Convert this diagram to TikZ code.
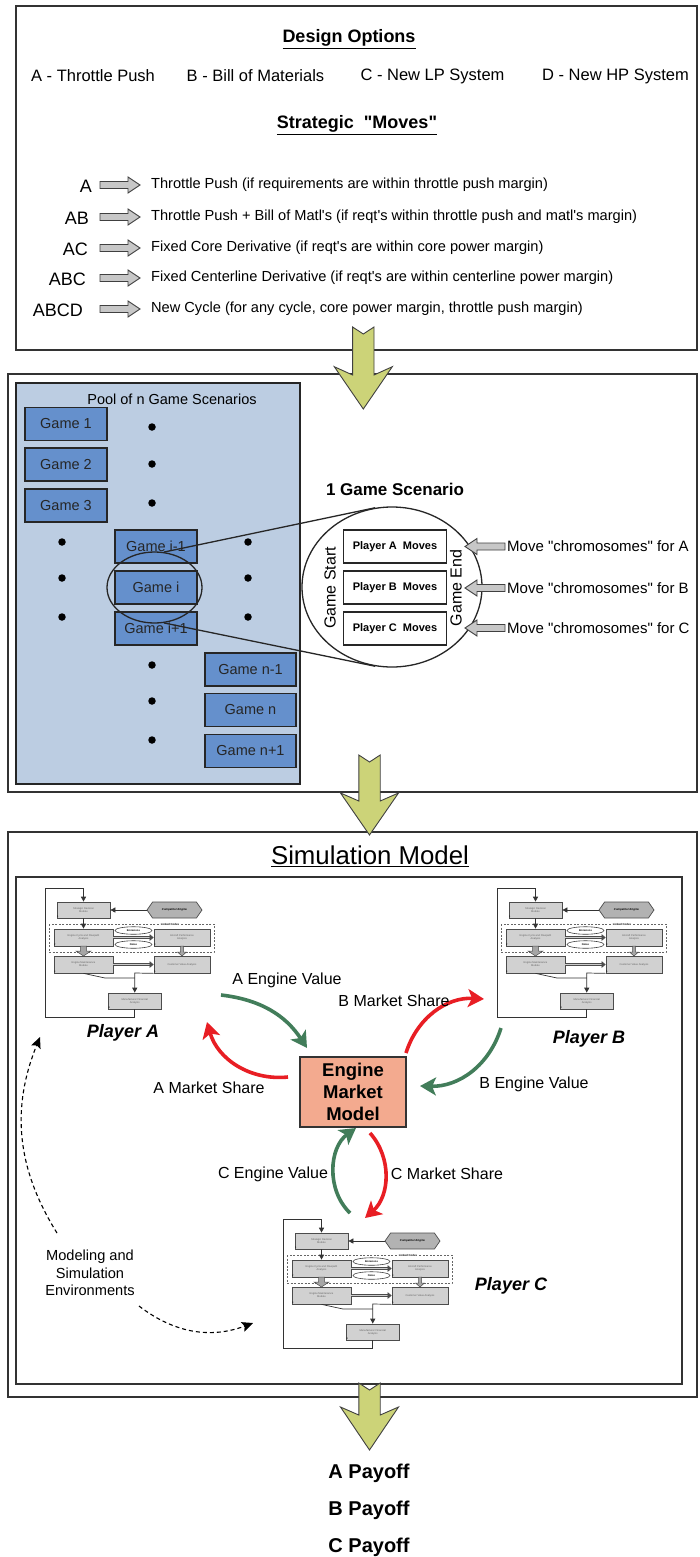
\documentclass[tikz,border=0pt]{standalone}
\usepackage{fontspec}
\setmainfont{Liberation Sans}
\usetikzlibrary{arrows.meta,shapes.geometric,shapes.symbols}

\definecolor{gameblue}{RGB}{101,144,204}
\definecolor{poolblue}{RGB}{188,205,226}
\definecolor{ygreen}{RGB}{204,211,120}
\definecolor{salmon}{RGB}{243,170,143}
\definecolor{agreen}{RGB}{66,125,90}
\definecolor{ared}{RGB}{232,30,36}

\newcommand\fsz[2]{\fontsize{#1}{#2}\selectfont}
\newcommand\dq{\textquotedbl}
\newcommand\sq{\textquotesingle}

\tikzset{
 frame/.style={draw=black!80, line width=1.8pt},
 poolbox/.style={draw=black!85, line width=1.6pt, fill=poolblue},
 game/.style={draw=black!85, line width=1.3pt, fill=gameblue, minimum height=33, inner sep=0pt, font=\fsz{14.5}{17}, text=black!85},
 gdot/.style={circle, fill=black, inner sep=0pt, minimum size=7.5},
 pmove/.style={draw=black!85, line width=1.4pt, fill=white, minimum width=103, minimum height=33, font=\bfseries\fsz{11}{13}},
 blockarr/.style={draw=black!75, line width=0.9pt, fill=black!22},
 yarrow/.style={draw=black!75, line width=0.9pt, fill=ygreen},
 flowlbl/.style={font=\fsz{16}{19}, inner sep=0pt},
 garrow/.style={draw=agreen, line width=3.6pt, -{Stealth[length=16pt,width=18pt,inset=4pt]}},
 rarrow/.style={draw=ared, line width=3.6pt, -{Stealth[length=16pt,width=18pt,inset=4pt]}},
 dasharr/.style={draw=black, line width=1.1pt, dash pattern=on 4pt off 3pt, -{Stealth[length=11pt,width=10pt,inset=2pt]}},
 mbox/.style={draw=black!70, line width=0.7pt, fill=black!18, align=center, font=\fsz{2.6}{3}, text=black!60, inner sep=0.5pt},
 mhex/.style={signal, signal to=west and east, signal pointer angle=110, draw=black!70, line width=0.7pt, fill=black!30, minimum width=55, minimum height=16, font=\bfseries\itshape\fsz{2.8}{3}, inner sep=0.5pt},
 mell/.style={ellipse, draw=black!75, line width=0.6pt, fill=white, minimum width=37, minimum height=7.5, inner sep=0pt, font=\bfseries\fsz{2.6}{3}},
 mline/.style={draw=black!80, line width=0.7pt},
 marrow/.style={mline, -{Triangle[length=5pt,width=5pt]}},
 mdouble/.style={draw=black!70, double=black!20, double distance=1.6pt, line width=0.6pt, -{Triangle[length=4pt,width=6.5pt]}},
 mdash/.style={draw=black!60, line width=0.5pt, dash pattern=on 2pt off 1.5pt},
 mnum/.style={font=\fsz{2.5}{3}, inner sep=0.3pt, anchor=south west},
 mblock/.style={draw=black!70, line width=0.5pt, fill=black!35},
}

\newcommand\mvarrow[1]{%
 \draw[blockarr] (100,#1-3.5) -- (128,#1-3.5) -- (128,#1-8) -- (140,#1) -- (128,#1+8) -- (128,#1+3.5) -- (100,#1+3.5) -- cycle;}
\newcommand\chrarrow[1]{%
 \draw[blockarr] (505,#1-3.5) -- (477,#1-3.5) -- (477,#1-8) -- (465,#1) -- (477,#1+8) -- (477,#1+3.5) -- (505,#1+3.5) -- cycle;}
% cx, top, wing, junction, tip
\newcommand\bigarrow[5]{%
 \draw[yarrow] (#1-10.7,#2) -- (#1,#2+7) -- (#1+10.7,#2) -- (#1+10.7,#4) -- (#1+29,#3) -- (#1,#5) -- (#1-29,#3) -- (#1-10.7,#4) -- cycle;}

\newcommand\miniflow[3]{%
\begin{scope}[shift={(#2,#3)}]
 \draw[mdash] (4,36) rectangle (169,64);
 \node[mbox, minimum width=53, minimum height=16] (#1sd) at (38.5,22) {Strategic Decision\\Module};
 \node[mhex] (#1ce) at (129.5,22) {Competitor Engine};
 \node[mbox, minimum width=59, minimum height=17] (#1ec) at (38.5,49.5) {Engine Cycle and Flowpath\\Analysis};
 \node[mbox, minimum width=56, minimum height=17] (#1ap) at (137,49.5) {Aircraft Performance\\Analysis};
 \node[mbox, minimum width=59, minimum height=17] (#1mm) at (38.5,76.5) {Engine Maintenance\\Module};
 \node[mbox, minimum width=56, minimum height=17] (#1cv) at (137,76.5) {Customer Value Analysis};
 \node[mbox, minimum width=52.5, minimum height=16] (#1mf) at (89.75,113) {Manufacturer Financial\\Analysis};
 \node[mnum] (#1n1) at (#1sd.south west) {1};
 \node[mnum] (#1n2) at (#1ec.south west) {2};
 \node[mnum] (#1n3) at (#1ap.south west) {3};
 \node[mnum] (#1n4) at (#1mm.south west) {4};
 \node[mnum] (#1n5) at (#1cv.south west) {5};
 \node[mnum] (#1n6) at (#1mf.south west) {6};
 \node[font=\bfseries\fsz{2.8}{3}, fill=white, inner sep=0.5pt] (#1lc) at (125,36.5) {Linked Codes};
 \draw[mdouble] (#1ec.east) -- (#1ap.west);
 \draw[mdouble] (#1mm.east) -- (#1cv.west);
 \node[mell] (#1em) at (88.5,42.5) {Emissions};
 \node[mell] (#1no) at (88.5,56.5) {Noise};
 \draw[marrow] (#1mf.south) -- (89.75,129) -- (0,129) -- (0,0) -- (38.5,0) -- (#1sd.north);
 \draw[marrow] (#1ce.west) -- (#1sd.east);
 \draw[marrow] (#1sd.south) -- (#1ec.north);
 \draw[mblock] (35.5,58) -- (35.5,63) -- (31,63) -- (38.5,68) -- (46,63) -- (41.5,63) -- (41.5,58) -- cycle;
 \draw[mblock] (135.5,58) -- (135.5,64) -- (132.5,64) -- (137,68) -- (141.5,64) -- (138.5,64) -- (138.5,58) -- cycle;
 \draw[mline] (#1mm.south) -- (60,90) -- (89.75,90);
 \draw[marrow] (#1cv.south west) -- (89.75,85) -- (#1mf.north);
\end{scope}}

\begin{document}
\begin{tikzpicture}[x=1pt,y=-1pt]
\useasboundingbox (0,0) rectangle (699,1557);
\fill[white] (0,0) rectangle (699,1557);

% ---------------- top box ----------------
\draw[frame] (16,6) rectangle (697,350);
\node[font=\bfseries\fsz{18}{21}] (dopt) at (349,39) {\underline{Design Options}};
\node[font=\fsz{16.5}{19}] (optA) at (93,76) {A - Throttle Push};
\node[font=\fsz{16.5}{19}] (optB) at (255.5,76) {B - Bill of Materials};
\node[font=\fsz{16.5}{19}] (optC) at (432.5,76) {C - New LP System};
\node[font=\fsz{16.5}{19}] (optD) at (615.5,76) {D - New HP System};
\node[font=\bfseries\fsz{18}{21}] (smov) at (357,125) {\underline{Strategic\ \ \dq Moves\dq}};

\node[anchor=east, inner sep=0pt, font=\fsz{18}{21}] (mA) at (92,186) {A};
\node[anchor=east, inner sep=0pt, font=\fsz{18}{21}] (mAB) at (89,218) {AB};
\node[anchor=east, inner sep=0pt, font=\fsz{18}{21}] (mAC) at (88,249) {AC};
\node[anchor=east, inner sep=0pt, font=\fsz{18}{21}] (mABC) at (86,279) {ABC};
\node[anchor=east, inner sep=0pt, font=\fsz{18}{21}] (mABCD) at (83,310) {ABCD};
\mvarrow{185}\mvarrow{217}\mvarrow{248}\mvarrow{278}\mvarrow{309}
\node[anchor=west, inner sep=0pt, font=\fsz{14.6}{17}] (dA) at (151,185) {Throttle Push (if requirements are within throttle push margin)};
\node[anchor=west, inner sep=0pt, font=\fsz{14.6}{17}] (dAB) at (151,217) {Throttle Push + Bill of Matl\sq s (if reqt\sq s within throttle push and matl\sq s margin)};
\node[anchor=west, inner sep=0pt, font=\fsz{14.6}{17}] (dAC) at (151,248) {Fixed Core Derivative (if reqt\sq s are within core power margin)};
\node[anchor=west, inner sep=0pt, font=\fsz{14.6}{17}] (dABC) at (151,278) {Fixed Centerline Derivative (if reqt\sq s are within centerline power margin)};
\node[anchor=west, inner sep=0pt, font=\fsz{14.6}{17}] (dABCD) at (151,309) {New Cycle (for any cycle, core power margin, throttle push margin)};

% ---------------- second box ----------------
\draw[frame] (8,374) rectangle (697,792);
\draw[poolbox] (16,383) rectangle (300,784);
\node[font=\fsz{14.5}{17}] (pool) at (172,399) {Pool of n Game Scenarios};
\node[game, minimum width=82] (g1) at (66,424) {Game 1};
\node[game, minimum width=82] (g2) at (66,464.5) {Game 2};
\node[game, minimum width=82] (g3) at (66,505.5) {Game 3};
\node[game, minimum width=82] (gim) at (156,546.5) {Game i-1};
\node[game, minimum width=82] (gi) at (156,587.5) {Game i};
\node[game, minimum width=82] (gip) at (156,628.5) {Game i+1};
\node[game, minimum width=91] (gnm) at (250.5,669.5) {Game n-1};
\node[game, minimum width=91] (gn) at (250.5,710) {Game n};
\node[game, minimum width=91] (gnp) at (250.5,751) {Game n+1};
\foreach \p/\q [count=\k] in {152/427,152/464,152/503,62/542,62/578,62/617,248/542,248/578,248/617,152/665,152/701,152/740}
  \node[gdot] (dot\k) at (\p,\q) {};
\node[ellipse, draw=black!85, line width=1.3pt, minimum width=95, minimum height=71, inner sep=0pt] (gsel) at (154.5,587.5) {};

\node[font=\bfseries\fsz{17}{20}] (onegs) at (395,489) {1 Game Scenario};
\node[ellipse, draw=black!85, line width=1.3pt, fill=white, minimum width=180, minimum height=160, inner sep=0pt] (gsc) at (392,587) {};
\draw[black!85, line width=1.3pt] (gsel.75) -- (gsc.102);
\draw[black!85, line width=1.3pt] (gsel.-75) -- (gsc.-102);
\node[pmove] (pA) at (395,546.5) {Player A\ \ Moves};
\node[pmove] (pB) at (395,587.5) {Player B\ \ Moves};
\node[pmove] (pC) at (395,628.5) {Player C\ \ Moves};
\node[rotate=90, font=\fsz{16}{19}] (gstart) at (330,588) {Game Start};
\node[rotate=90, font=\fsz{16}{19}] (gend) at (456,588) {Game End};
\chrarrow{546.5}\chrarrow{588}\chrarrow{628}
\node[anchor=west, inner sep=0pt, font=\fsz{15}{18}] (chA) at (507,546.5) {Move \dq chromosomes\dq{} for A};
\node[anchor=west, inner sep=0pt, font=\fsz{15}{18}] (chB) at (507,588) {Move \dq chromosomes\dq{} for B};
\node[anchor=west, inner sep=0pt, font=\fsz{15}{18}] (chC) at (507,628) {Move \dq chromosomes\dq{} for C};

% ---------------- third box ----------------
\draw[frame] (8,832) rectangle (697,1397);
\node[font=\fsz{25.8}{30}] (simm) at (370,856) {\underline{Simulation Model}};
\draw[frame, line width=1.5pt] (16,877) rectangle (682,1384);

\miniflow{fa}{45}{888}
\miniflow{fb}{497}{888}
\miniflow{fc}{283}{1219}
\node[font=\bfseries\itshape\fsz{18}{21}] (plA) at (123,1033) {Player A};
\node[font=\bfseries\itshape\fsz{18}{21}] (plB) at (589,1039) {Player B};
\node[font=\bfseries\itshape\fsz{18}{21}] (plC) at (511,1286) {Player C};

\node[draw=black!80, line width=1.2pt, fill=salmon, minimum width=106, minimum height=70, align=center, font=\bfseries\fsz{18.5}{22}] (emm) at (353,1092) {Engine\\Market\\Model};

\coordinate (aev1) at (221,995);  \coordinate (aev2) at (307,1048);
\coordinate (ams1) at (288,1077); \coordinate (ams2) at (207,1022);
\coordinate (bms1) at (406,1053); \coordinate (bms2) at (484,999);
\coordinate (bev1) at (501,1028); \coordinate (bev2) at (420,1086);
\coordinate (cev1) at (350,1213); \coordinate (cev2) at (356,1128);
\coordinate (cms1) at (370,1133); \coordinate (cms2) at (365,1218);
\draw[garrow] (aev1) to[bend left=25] (aev2);
\draw[rarrow] (ams1) to[bend left=40] (ams2);
\draw[rarrow] (bms1) to[bend left=38] (bms2);
\draw[garrow] (bev1) to[bend left=37] (bev2);
\draw[garrow] (cev1) to[bend left=50] (cev2);
\draw[rarrow] (cms1) to[bend left=45] (cms2);
\node[flowlbl] (lAEV) at (287,980) {A Engine Value};
\node[flowlbl] (lBMS) at (394,1001) {B Market Share};
\node[flowlbl] (lAMS) at (209,1088) {A Market Share};
\node[flowlbl] (lBEV) at (534,1084) {B Engine Value};
\node[flowlbl] (lCEV) at (273,1174) {C Engine Value};
\node[flowlbl] (lCMS) at (447,1174) {C Market Share};

\node[align=center, font=\fsz{14.6}{17.5}] (mse) at (90,1273) {Modeling and\\Simulation\\Environments};
\coordinate (ds1) at (57,1233); \coordinate (ds2) at (40,1037);
\coordinate (dt1) at (139,1306); \coordinate (dt2) at (253,1323);
\draw[dasharr] (ds1) to[bend left=27] (ds2);
\draw[dasharr] (dt1) to[bend right=29] (dt2);

% ---------------- big arrows ----------------
\bigarrow{363.3}{327}{366.7}{375}{409}
\bigarrow{369.5}{755}{793}{801}{835}
\bigarrow{369.5}{1383}{1407}{1415}{1450}

\node[font=\bfseries\fsz{20}{24}] (payA) at (369,1473) {A Payoff};
\node[font=\bfseries\fsz{20}{24}] (payB) at (369,1510) {B Payoff};
\node[font=\bfseries\fsz{20}{24}] (payC) at (369,1547) {C Payoff};
\end{tikzpicture}
\end{document}
